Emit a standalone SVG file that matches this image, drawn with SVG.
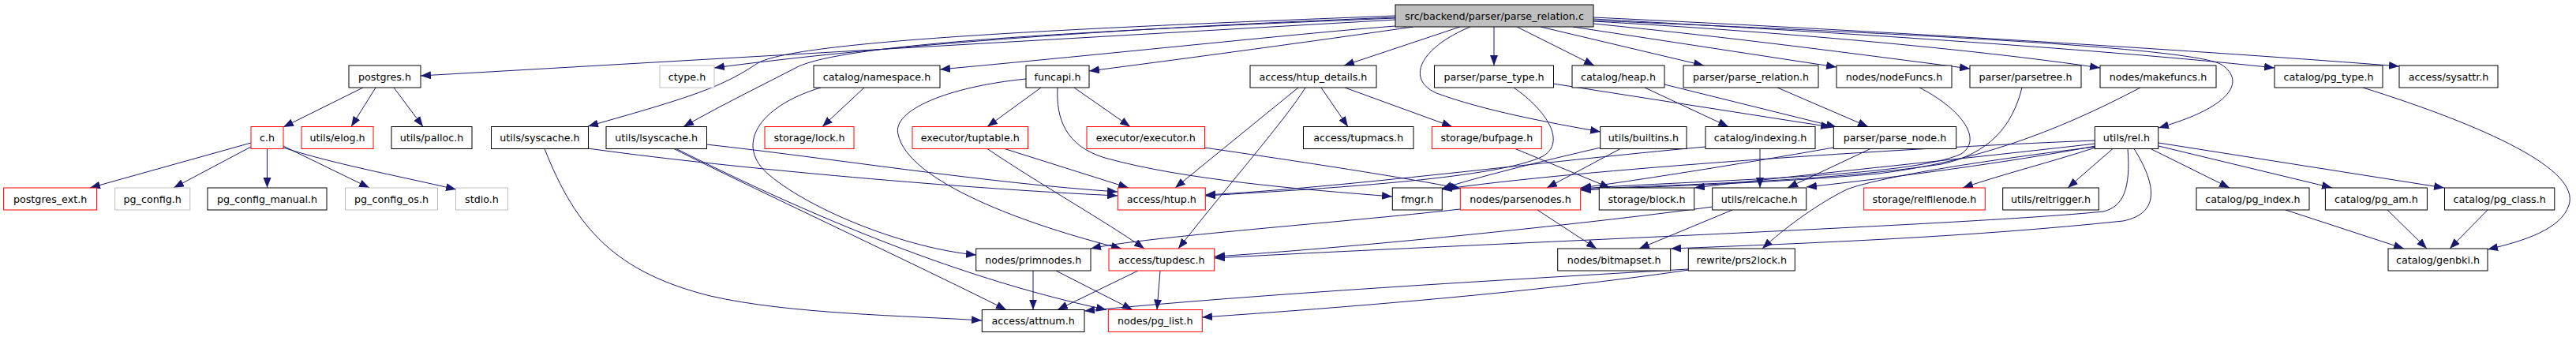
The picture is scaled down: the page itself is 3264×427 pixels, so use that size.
<svg xmlns="http://www.w3.org/2000/svg" width="3264" height="427" viewBox="0 0 3264 427">
<style>
rect{fill:#fff;stroke:#000;stroke-width:1}
.r rect{stroke:#ff0000}
.g rect{stroke:#bfbfbf}
.t rect{fill:#bfbfbf}
text{font-family:"DejaVu Sans","Liberation Sans",sans-serif;font-size:12.7px;text-anchor:middle;fill:#000}
#edges path{fill:none;stroke:#191970;stroke-width:1;marker-end:url(#a)}
</style>
<defs>
<marker id="a" markerUnits="userSpaceOnUse" markerWidth="14" markerHeight="10" refX="13" refY="5" orient="auto"><path d="M0,0 L13,5 L0,10 z" fill="#191970" stroke="none"/></marker>
</defs>
<rect x="0" y="0" width="3264" height="427" style="fill:#fff;stroke:none"/>
<g id="edges">
<path d="M1768,25 L533,96"/>
<path d="M1768,22 C1400,36 1100,60 905,86"/>
<path d="M1768,20 C1350,36 1010,52 960,80 C915,110 880,122 745,160"/>
<path d="M1768,23 C1350,40 1070,56 1010,85 C970,106 920,130 866,160.5"/>
<path d="M1768,33 C1650,42 1450,64 1191,88"/>
<path d="M1791,34 C1700,47 1550,68 1380,90"/>
<path d="M1850,34 L1703,83"/>
<path d="M1893,34 L1893,83"/>
<path d="M1922,34 L2020,83"/>
<path d="M1952,34 L2159,83"/>
<path d="M1993,34 L2327,85"/>
<path d="M2019,30 C2200,48 2350,68 2496,87"/>
<path d="M2019,27 C2250,40 2500,62 2661,86"/>
<path d="M2019,24 C2400,45 2700,66 2882,86"/>
<path d="M2019,22 C2400,40 2800,65 3040,84"/>
<path d="M2019,26 C2400,42 2780,60 2815,82 C2845,102 2830,135 2735,162"/>
<path d="M1863,34 C1800,60 1780,100 1820,118 C1880,140 1960,155 2028,167"/>
<path d="M460,111 L359,161"/>
<path d="M476,111 L445,160.5"/>
<path d="M499,111 L536,160.5"/>
<path d="M318,181 L114,238"/>
<path d="M318,186 L220,238"/>
<path d="M338.5,188.5 L338.5,238"/>
<path d="M359,185 L468,238"/>
<path d="M359,187 C420,207 500,222 578,240"/>
<path d="M1095,111 L1042,160.5"/>
<path d="M1040,111 C960,135 930,185 975,222 C1030,268 1150,315 1237,323"/>
<path d="M1319,111 L1251,160.5"/>
<path d="M1361,111 L1432,160.5"/>
<path d="M1340,111 C1338,150 1350,185 1400,200 C1500,228 1650,240 1764,249"/>
<path d="M1300,100 C1200,110 1130,140 1138,170 C1150,230 1300,285 1421,315"/>
<path d="M1645,111 L1489,238"/>
<path d="M1654,111 C1630,150 1560,230 1493,315"/>
<path d="M1674,111 L1708,160.5"/>
<path d="M1704,111 L1840,160.5"/>
<path d="M1968,106 L2320,161"/>
<path d="M1918,111 C1960,140 1985,180 1955,198 C1900,225 1700,238 1527,248"/>
<path d="M2084,111 L2190,160.5"/>
<path d="M2109,107 L2327,161"/>
<path d="M2252,111 L2367,160.5"/>
<path d="M2432,111 C2480,135 2515,175 2485,195 C2420,225 2150,228 2003,239"/>
<path d="M2562,111 C2550,160 2520,195 2460,208 C2300,232 2100,234 2003,240"/>
<path d="M2712,111 C2600,170 2500,205 2380,220 C2250,232 2100,236 2003,241"/>
<path d="M2323,187 C2250,200 2100,225 2003,238"/>
<path d="M2370,188.5 L2265,238"/>
<path d="M2230,188.5 L2230,238"/>
<path d="M2161,186 C1950,205 1700,238 1527,247"/>
<path d="M2028,187 C1950,205 1870,225 1827,239"/>
<path d="M2053,188.5 L1960,238"/>
<path d="M1526,187 C1650,205 1780,225 1851,239"/>
<path d="M1273,188.5 L1430,238"/>
<path d="M1251,188.5 C1320,235 1400,280 1450,315"/>
<path d="M745,188 C900,210 1200,238 1416,248"/>
<path d="M690,188.5 C730,290 780,345 900,375 C1000,398 1150,400 1244,406"/>
<path d="M895,183 C1050,200 1250,232 1416,243"/>
<path d="M854,188.5 C950,237 1150,330 1275,392.5"/>
<path d="M857,188.5 C1000,260 1200,350 1402,392.5"/>
<path d="M1309,343 L1309,392.5"/>
<path d="M1338,343 L1435,392.5"/>
<path d="M1442,343 L1340,392.5"/>
<path d="M1470,343 L1466,392.5"/>
<path d="M1850,265 C1700,282 1450,300 1382,315"/>
<path d="M1948,266 L2023,315"/>
<path d="M1920,188.5 L2040,238"/>
<path d="M2195,266 L2077,315"/>
<path d="M2170,262 C2000,285 1700,315 1539,325"/>
<path d="M2696,188.5 C2700,240 2690,262 2665,268 C2500,285 1800,312 1539,327"/>
<path d="M2704,188.5 C2730,230 2740,270 2690,280 C2500,300 2300,308 2117,315"/>
<path d="M2655,178 C2400,188 2000,215 1827,240"/>
<path d="M2655,182 C2500,200 2250,225 2147,238"/>
<path d="M2655,185 C2550,205 2400,225 2289,237"/>
<path d="M2655,187 C2600,205 2540,220 2487,238"/>
<path d="M2677,188.5 L2620,238"/>
<path d="M2725,188.5 L2825,238"/>
<path d="M2735,185 L2955,238"/>
<path d="M2735,181 L3097,238"/>
<path d="M2655,186 C2500,205 2380,225 2340,240 C2300,260 2260,290 2233,315"/>
<path d="M2994,111 C3150,160 3270,215 3255,260 C3245,290 3200,305 3152,316"/>
<path d="M2896,266 L3046,315"/>
<path d="M3025,266 L3075,315"/>
<path d="M3152,266 L3104,315"/>
<path d="M2139,341 C1900,355 1600,372 1374,394"/>
<path d="M2140,342 C1950,370 1700,390 1523,402"/>
</g>
<g id="n_title" class="t"><rect x="1768" y="6" width="251" height="28"/><text x="1893.5" y="24.7">src/backend/parser/parse_relation.c</text></g>
<g id="n_postgres"><rect x="442" y="83" width="91" height="28"/><text x="487.5" y="101.7">postgres.h</text></g>
<g id="n_ctype" class="g"><rect x="836" y="83" width="69" height="28"/><text x="870.5" y="101.7">ctype.h</text></g>
<g id="n_namespace"><rect x="1031" y="83" width="160" height="28"/><text x="1111" y="101.7">catalog/namespace.h</text></g>
<g id="n_funcapi"><rect x="1300" y="83" width="80" height="28"/><text x="1340" y="101.7">funcapi.h</text></g>
<g id="n_htup_details"><rect x="1584" y="83" width="160" height="28"/><text x="1664" y="101.7">access/htup_details.h</text></g>
<g id="n_parse_type"><rect x="1817.5" y="83" width="151" height="28"/><text x="1893" y="101.7">parser/parse_type.h</text></g>
<g id="n_heap"><rect x="1992" y="83" width="117" height="28"/><text x="2050.5" y="101.7">catalog/heap.h</text></g>
<g id="n_parse_relation"><rect x="2133" y="83" width="171" height="28"/><text x="2218.5" y="101.7">parser/parse_relation.h</text></g>
<g id="n_nodeFuncs"><rect x="2327" y="83" width="146" height="28"/><text x="2400" y="101.7">nodes/nodeFuncs.h</text></g>
<g id="n_parsetree"><rect x="2496" y="83" width="141" height="28"/><text x="2566.5" y="101.7">parser/parsetree.h</text></g>
<g id="n_makefuncs"><rect x="2661" y="83" width="147" height="28"/><text x="2734.5" y="101.7">nodes/makefuncs.h</text></g>
<g id="n_pg_type"><rect x="2882" y="83" width="137" height="28"/><text x="2950.5" y="101.7">catalog/pg_type.h</text></g>
<g id="n_sysattr"><rect x="3040" y="83" width="125" height="28"/><text x="3102.5" y="101.7">access/sysattr.h</text></g>
<g id="n_c" class="r"><rect x="318" y="160.5" width="41" height="28"/><text x="338.5" y="179.2">c.h</text></g>
<g id="n_elog" class="r"><rect x="382" y="160.5" width="91" height="28"/><text x="427.5" y="179.2">utils/elog.h</text></g>
<g id="n_palloc"><rect x="496" y="160.5" width="102" height="28"/><text x="547" y="179.2">utils/palloc.h</text></g>
<g id="n_syscache"><rect x="622.5" y="160.5" width="123" height="28"/><text x="684" y="179.2">utils/syscache.h</text></g>
<g id="n_lsyscache"><rect x="768" y="160.5" width="127.5" height="28"/><text x="831.75" y="179.2">utils/lsyscache.h</text></g>
<g id="n_lock" class="r"><rect x="969" y="160.5" width="113" height="28"/><text x="1025.5" y="179.2">storage/lock.h</text></g>
<g id="n_tuptable" class="r"><rect x="1156" y="160.5" width="146.5" height="28"/><text x="1229.25" y="179.2">executor/tuptable.h</text></g>
<g id="n_executor" class="r"><rect x="1377" y="160.5" width="149.5" height="28"/><text x="1451.75" y="179.2">executor/executor.h</text></g>
<g id="n_tupmacs"><rect x="1651.5" y="160.5" width="139.5" height="28"/><text x="1721.25" y="179.2">access/tupmacs.h</text></g>
<g id="n_bufpage" class="r"><rect x="1814.3" y="160.5" width="139" height="28"/><text x="1883.8" y="179.2">storage/bufpage.h</text></g>
<g id="n_builtins"><rect x="2027.7" y="160.5" width="109.3" height="28"/><text x="2082.35" y="179.2">utils/builtins.h</text></g>
<g id="n_indexing"><rect x="2161" y="160.5" width="139" height="28"/><text x="2230.5" y="179.2">catalog/indexing.h</text></g>
<g id="n_parse_node"><rect x="2323.3" y="160.5" width="155.4" height="28"/><text x="2401" y="179.2">parser/parse_node.h</text></g>
<g id="n_rel"><rect x="2654.3" y="160.5" width="80.4" height="28"/><text x="2694.5" y="179.2">utils/rel.h</text></g>
<g id="n_postgres_ext" class="r"><rect x="4.6" y="238" width="118" height="28"/><text x="63.6" y="256.7">postgres_ext.h</text></g>
<g id="n_pg_config" class="g"><rect x="145.7" y="238" width="95" height="28"/><text x="193.2" y="256.7">pg_config.h</text></g>
<g id="n_pg_config_manual"><rect x="263" y="238" width="151" height="28"/><text x="338.5" y="256.7">pg_config_manual.h</text></g>
<g id="n_pg_config_os" class="g"><rect x="437.5" y="238" width="117" height="28"/><text x="496" y="256.7">pg_config_os.h</text></g>
<g id="n_stdio" class="g"><rect x="577.5" y="238" width="66" height="28"/><text x="610.5" y="256.7">stdio.h</text></g>
<g id="n_htup" class="r"><rect x="1416.3" y="238" width="111" height="28"/><text x="1471.8" y="256.7">access/htup.h</text></g>
<g id="n_fmgr"><rect x="1764.3" y="238" width="63" height="28"/><text x="1795.8" y="256.7">fmgr.h</text></g>
<g id="n_parsenodes" class="r"><rect x="1850.3" y="238" width="152.4" height="28"/><text x="1926.5" y="256.7">nodes/parsenodes.h</text></g>
<g id="n_block"><rect x="2026.3" y="238" width="120.4" height="28"/><text x="2086.5" y="256.7">storage/block.h</text></g>
<g id="n_relcache"><rect x="2169.7" y="238" width="119" height="28"/><text x="2229.2" y="256.7">utils/relcache.h</text></g>
<g id="n_relfilenode" class="r"><rect x="2361.7" y="238" width="153.6" height="28"/><text x="2438.5" y="256.7">storage/relfilenode.h</text></g>
<g id="n_reltrigger"><rect x="2537.7" y="238" width="121.6" height="28"/><text x="2598.5" y="256.7">utils/reltrigger.h</text></g>
<g id="n_pg_index"><rect x="2783" y="238" width="143" height="28"/><text x="2854.5" y="256.7">catalog/pg_index.h</text></g>
<g id="n_pg_am"><rect x="2946.4" y="238" width="129" height="28"/><text x="3010.9" y="256.7">catalog/pg_am.h</text></g>
<g id="n_pg_class"><rect x="3097.5" y="238" width="139.3" height="28"/><text x="3167.15" y="256.7">catalog/pg_class.h</text></g>
<g id="n_primnodes"><rect x="1236.7" y="315" width="145.3" height="28"/><text x="1309.35" y="333.7">nodes/primnodes.h</text></g>
<g id="n_tupdesc" class="r"><rect x="1405" y="315" width="133.7" height="28"/><text x="1471.85" y="333.7">access/tupdesc.h</text></g>
<g id="n_bitmapset"><rect x="1973.7" y="315" width="143" height="28"/><text x="2045.2" y="333.7">nodes/bitmapset.h</text></g>
<g id="n_prs2lock"><rect x="2139.3" y="315" width="135" height="28"/><text x="2206.8" y="333.7">rewrite/prs2lock.h</text></g>
<g id="n_genbki"><rect x="3026" y="315" width="126" height="28"/><text x="3089" y="333.7">catalog/genbki.h</text></g>
<g id="n_attnum"><rect x="1244.3" y="392.5" width="129.7" height="28"/><text x="1309.15" y="411.2">access/attnum.h</text></g>
<g id="n_pg_list" class="r"><rect x="1404.3" y="392.5" width="119" height="28"/><text x="1463.8" y="411.2">nodes/pg_list.h</text></g>
</svg>
